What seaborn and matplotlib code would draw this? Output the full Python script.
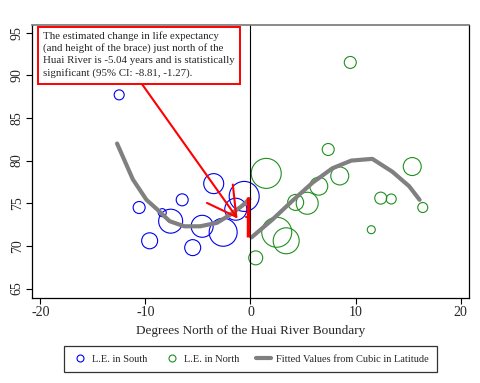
import numpy as np
import pandas as pd
import matplotlib
matplotlib.use("Agg")
import matplotlib.pyplot as plt
import seaborn as sns
from matplotlib.lines import Line2D
from matplotlib.patches import Rectangle

# city-level life expectancy vs degrees north of the Huai River
south_x = [-12.5, -10.6, -9.6, -8.4, -7.6, -6.5, -5.5, -4.6, -3.5, -2.6, -1.4, -0.6]
south_le = [87.7, 74.5, 70.6, 73.9, 72.9, 75.4, 69.8, 72.3, 77.3, 71.6, 74.3, 75.8]
south_w = [25, 36, 64, 16, 144, 36, 64, 121, 100, 196, 121, 225]

north_x = [0.5, 1.5, 2.5, 3.4, 4.3, 5.4, 6.5, 7.4, 8.5, 9.5, 11.5, 12.4, 13.4, 15.4, 16.4]
north_le = [68.6, 78.5, 71.6, 70.6, 75.1, 75.0, 77.0, 81.3, 78.2, 91.5, 71.9, 75.6, 75.5, 79.3, 74.5]
north_w = [49, 225, 225, 169, 64, 121, 81, 36, 81, 36, 16, 36, 25, 81, 25]

# fitted values from cubic in latitude
fit_s_x = [-12.7, -11.2, -9.9, -8.9, -7.7, -6.3, -4.8, -3.2, -2.0, -0.8, -0.1]
fit_s_y = [82.0, 77.8, 75.4, 74.3, 72.9, 72.3, 72.3, 72.7, 73.6, 74.7, 75.5]
fit_n_x = [0.1, 2.1, 4.0, 5.9, 7.8, 9.6, 11.6, 13.5, 15.1, 16.1]
fit_n_y = [71.0, 73.1, 75.3, 77.4, 79.1, 80.0, 80.2, 78.7, 77.0, 75.4]

x_ticks = [-20, -10, 0, 10, 20]
y_ticks = [65, 70, 75, 80, 85, 90, 95]

sns.set_theme(style="white")
plt.rcParams['font.family'] = ['Liberation Serif', 'DejaVu Serif']

blue = "#0000ee"
green = "#1f8f1f"
gray = "#808080"

south = pd.DataFrame({"x": south_x, "le": south_le, "w": south_w})
north = pd.DataFrame({"x": north_x, "le": north_le, "w": north_w})

fig = plt.figure(figsize=(4.81, 3.83), dpi=100)
ax = fig.add_axes([0.0665, 0.222, 0.9085, 0.713])

k = 2.07  # area scale, points^2 per weight unit
for d, c in [(south, blue), (north, green)]:
    sns.scatterplot(data=d, x="x", y="le", size="w", size_norm=(0, 250),
                    sizes=(0, 250 * k), facecolors="none", edgecolor=c,
                    linewidth=0.8, legend=False, ax=ax)
# keep the circles hollow
for coll, c in zip(ax.collections, [blue, green]):
    coll.set_facecolor("none")
    coll.set_edgecolor(c)

sns.lineplot(x=fit_s_x, y=fit_s_y, sort=False, color=gray, linewidth=3, ax=ax)
sns.lineplot(x=fit_n_x, y=fit_n_y, sort=False, color=gray, linewidth=3, ax=ax)

ax.axvline(0, color="black", linewidth=0.8)

# brace showing the jump at the boundary
ax.plot([-0.2, -0.2], [75.7, 71.1], color="red", linewidth=2.5, solid_capstyle="butt")
ax.plot([-0.45, -0.2], [73.4, 73.4], color="red", linewidth=1.5)

ax.annotate("", xy=(-1.23, 73.2), xytext=(-10.35, 89.0),
            arrowprops=dict(arrowstyle="->,head_length=1.7,head_width=0.95",
                            color="red", linewidth=1.5, shrinkA=0, shrinkB=0))

# note box
ax.add_patch(Rectangle((0.0137, 0.784), 0.4623, 0.209, transform=ax.transAxes,
                       facecolor="white", edgecolor="red", linewidth=1.4, zorder=5))
ax.text(0.025, 0.978,
        "The estimated change in life expectancy\n(and height of the brace) just north of the\n"
        "Huai River is -5.04 years and is statistically\nsignificant (95% CI: -8.81, -1.27).",
        transform=ax.transAxes, ha="left", va="top", fontsize=7.8, linespacing=1.36,
        zorder=6)

ax.set_xlim(-20.8, 20.8)
ax.set_ylim(63.9, 95.9)
ax.set_xticks(x_ticks)
ax.set_yticks(y_ticks)
ax.set_xticklabels([str(t) for t in x_ticks], fontsize=10)
ax.set_yticklabels([str(t) for t in y_ticks], fontsize=10, rotation=90, va="center")
ax.tick_params(axis="both", direction="out", length=4, width=0.8, color="black",
               bottom=True, left=True, pad=2)
ax.set_xlabel("Degrees North of the Huai River Boundary", fontsize=9.5, labelpad=4)
ax.set_ylabel("")

for s in ["left", "bottom", "right"]:
    ax.spines[s].set_color("black")
    ax.spines[s].set_linewidth(0.9)
ax.spines["top"].set_color("#777777")
ax.spines["top"].set_linewidth(1.2)

handles = [
    Line2D([], [], marker="o", linestyle="none", markerfacecolor="none",
           markeredgecolor=blue, markersize=5, markeredgewidth=0.8, label="L.E. in South"),
    Line2D([], [], marker="o", linestyle="none", markerfacecolor="none",
           markeredgecolor=green, markersize=5, markeredgewidth=0.8, label="L.E. in North"),
    Line2D([], [], color=gray, linewidth=3, label="Fitted Values from Cubic in Latitude"),
]
leg = fig.legend(handles=handles, loc="center", bbox_to_anchor=(0.521, 0.063), ncol=3,
                 fontsize=7.5, frameon=True, fancybox=False, edgecolor="black",
                 handlelength=1.4, handletextpad=0.5, columnspacing=1.6, borderpad=0.8)
leg.get_frame().set_linewidth(0.9)

fig.savefig("out.png", dpi=100)
